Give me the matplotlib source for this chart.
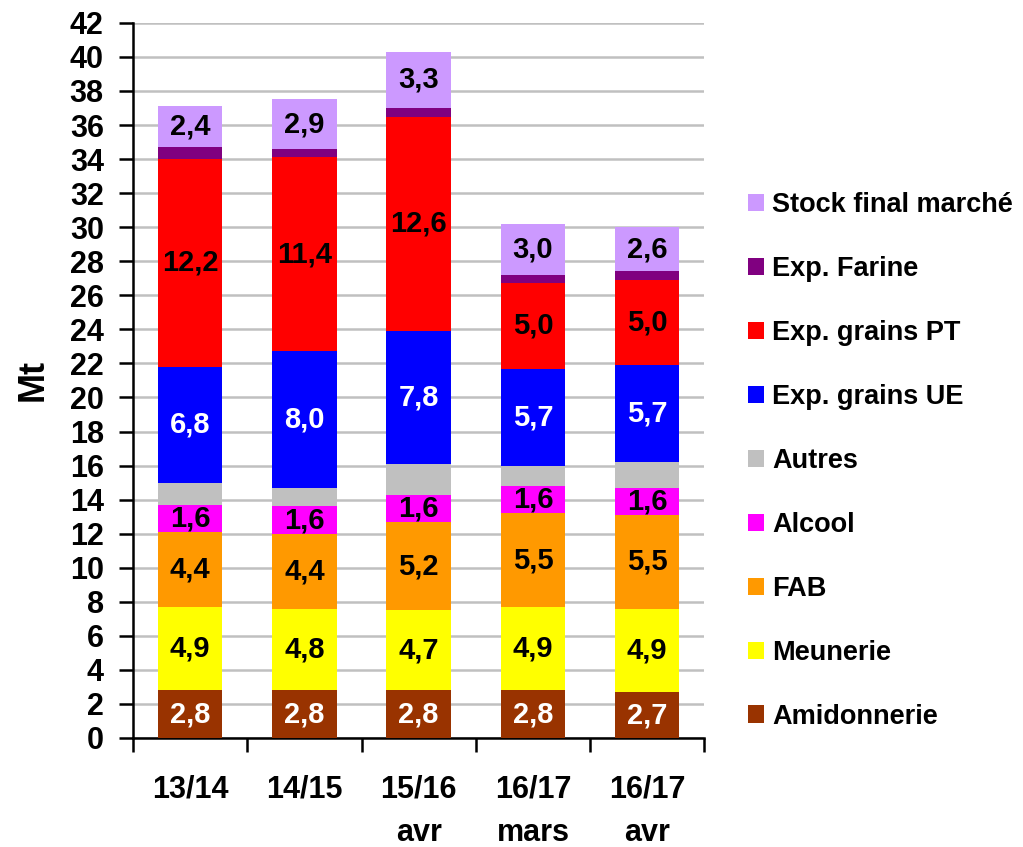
import matplotlib
matplotlib.use("Agg")
import matplotlib.pyplot as plt
import numpy as np

plt.rcParams['font.family'] = ['Liberation Sans', 'DejaVu Sans']
plt.rcParams['font.weight'] = 'bold'

campagnes = ["13/14", "14/15", "15/16\navr", "16/17\nmars", "16/17\navr"]

postes = ["Amidonnerie", "Meunerie", "FAB", "Alcool", "Autres",
          "Exp. grains UE", "Exp. grains PT", "Exp. Farine", "Stock final marché"]

amidonnerie = [2.8, 2.8, 2.8, 2.8, 2.7]
meunerie = [4.9, 4.8, 4.7, 4.9, 4.9]
fab = [4.4, 4.4, 5.2, 5.5, 5.5]
alcool = [1.6, 1.6, 1.6, 1.6, 1.6]
autres = [1.3, 1.1, 1.8, 1.2, 1.5]
exp_ue = [6.8, 8.0, 7.8, 5.7, 5.7]
exp_pt = [12.2, 11.4, 12.6, 5.0, 5.0]
exp_farine = [0.7, 0.5, 0.5, 0.5, 0.5]
stock = [2.4, 2.9, 3.3, 3.0, 2.6]

series = [amidonnerie, meunerie, fab, alcool, autres, exp_ue, exp_pt, exp_farine, stock]
couleurs = ["#993300", "#FFFF00", "#FF9900", "#FF00FF", "#C0C0C0",
            "#0000FF", "#FF0000", "#800080", "#CC99FF"]
# which segments get a value label, and in what colour
etiquettes = ["white", "black", "black", "black", None, "white", "black", None, "black"]

fig = plt.figure(figsize=(10.23, 8.47), dpi=100)
ax = fig.add_axes([0.130, 0.1287, 0.5585, 0.8443])

x = np.arange(len(campagnes))
bas = np.zeros(len(campagnes))
barres = []
for nom, vals, coul, lab in zip(postes, series, couleurs, etiquettes):
    vals = np.array(vals)
    b = ax.bar(x, vals, 0.565, bottom=bas, color=coul, label=nom, zorder=3)
    barres.append(b)
    if lab is not None:
        for xi, v, b0 in zip(x, vals, bas):
            ax.text(xi, b0 + v / 2, f"{v:.1f}".replace(".", ","), ha="center", va="center",
                    color=lab, fontsize=21, fontweight="bold", zorder=4)
    bas = bas + vals

ax.set_xlim(-0.5, len(campagnes) - 0.5)
ax.set_ylim(0, 42)
ax.set_yticks(np.arange(0, 43, 2))
ax.tick_params(axis="y", labelsize=22, length=10, width=1.8, direction="out", pad=11)
ax.set_xticks(x)
ax.set_xticklabels(campagnes, fontsize=22, fontweight="bold", linespacing=1.6)
ax.set_xticks(np.arange(-0.5, len(campagnes), 1), minor=True)
ax.tick_params(axis="x", which="major", length=0, pad=26)
ax.tick_params(axis="x", which="minor", length=10, width=1.8, direction="out")
ax.yaxis.grid(True, color="#C0C0C0", linewidth=1.8, zorder=0)
ax.set_axisbelow(True)
for s in ["top", "right"]:
    ax.spines[s].set_visible(False)
for s in ["left", "bottom"]:
    ax.spines[s].set_linewidth(1.8)
ax.set_ylabel("Mt", fontsize=26, fontweight="bold", labelpad=14)

handles = barres[::-1]
labels = postes[::-1]
fig.legend(handles, labels, loc="upper left", bbox_to_anchor=(0.718, 0.789),
           frameon=False, borderpad=0, handlelength=0.6, handleheight=0.6,
           handletextpad=0.3, labelspacing=1.4, prop={"weight": "bold", "size": 19.5})

fig.savefig("out.png", dpi=100)
